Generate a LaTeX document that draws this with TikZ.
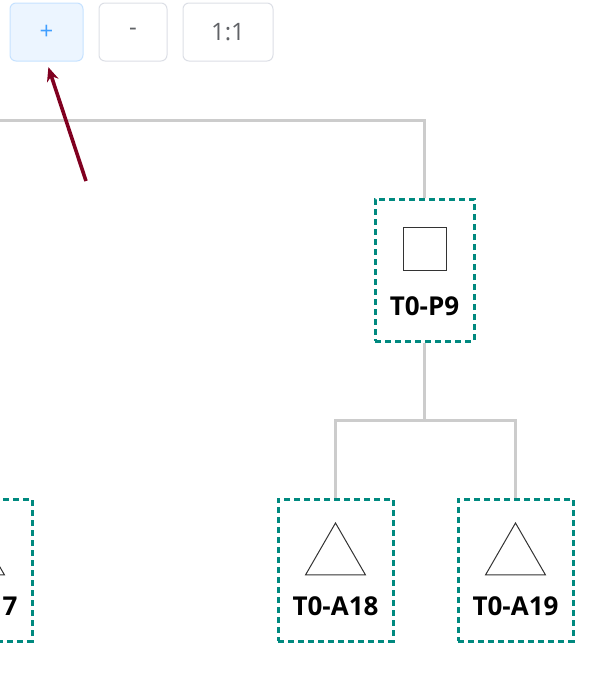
\documentclass[tikz,border=0pt]{standalone}
\usepackage{fontspec}
\setmainfont{Open Sans}
\usepackage{xcolor}
\usetikzlibrary{shapes.geometric, arrows.meta, positioning, calc}

\definecolor{boxteal}{HTML}{00897F}
\definecolor{linegray}{HTML}{CCCCCC}
\definecolor{btngray}{HTML}{DCDFE6}
\definecolor{btntext}{HTML}{606266}
\definecolor{plusfill}{HTML}{ECF5FF}
\definecolor{plusdraw}{HTML}{C6E2FF}
\definecolor{plustext}{HTML}{409EFF}
\definecolor{arrowred}{HTML}{800020}
\definecolor{icongray}{HTML}{333333}

\begin{document}
\begin{tikzpicture}[x=0.5pt, y=-0.5pt,
    box/.style={draw=boxteal, line width=1.5pt, dash pattern=on 3.2pt off 1.8pt, minimum width=57.5pt, minimum height=71pt},
    link/.style={draw=linegray, line width=1.5pt},
    lbl/.style={font=\fontsize{13}{16}\selectfont\bfseries},
    sq/.style={draw=icongray, line width=0.5pt, minimum size=21.5pt, inner sep=0pt},
    tri/.style={draw=icongray, line width=0.5pt, regular polygon, regular polygon sides=3, minimum size=34.6pt, inner sep=0pt},
    btn/.style={draw=btngray, fill=white, rounded corners=3pt, minimum height=29pt, line width=0.5pt, text=btntext, font=\fontsize{12}{14}\selectfont}]
        \useasboundingbox (0,0) rectangle (606,675);
        \clip (0,0) rectangle (606,675);

        % Zoom buttons
        \node[btn, draw=plusdraw, fill=plusfill, text=plustext, minimum width=36.5pt] (PLUS) at (46.5,32) {+};
        \node[btn, minimum width=34pt] (MINUS) at (133,32) {-};
        \node[btn, minimum width=45pt] (ONE) at (228,32) {1:1};

        % Tree nodes
        \node[box, minimum width=49.5pt] (P9) at (424.5,270) {};
        \node[sq] (P9icon) at (424.5,248.5) {};
        \node[lbl] (P9lbl) at (424.5,306) {T0-P9};

        \node[box] (A17) at (-25.5,570) {};
        \node[tri] (A17icon) at (-25.5,557.6) {};
        \node[lbl] (A17lbl) at (-25.5,606) {T0-A17};

        \node[box] (A18) at (335.5,570) {};
        \node[tri] (A18icon) at (335.5,557.6) {};
        \node[lbl] (A18lbl) at (335.5,606) {T0-A18};

        \node[box] (A19) at (515.5,570) {};
        \node[tri] (A19icon) at (515.5,557.6) {};
        \node[lbl] (A19lbl) at (515.5,606) {T0-A19};

        % Links
        \coordinate (L) at (-40,120);
        \coordinate (J) at (424.5,420);
        \draw[link] (L) -| (P9.north);
        \draw[link] (P9.south) -- (J);
        \draw[link] (A18.north) |- (J) -| (A19.north);

        % Pointer
        \coordinate (T) at (86,181);
        \draw[-{Stealth[length=7pt, width=6pt]}, arrowred, line width=1.8pt, shorten >=3pt] (T) -- (PLUS.south);
    \end{tikzpicture}
\end{document}
